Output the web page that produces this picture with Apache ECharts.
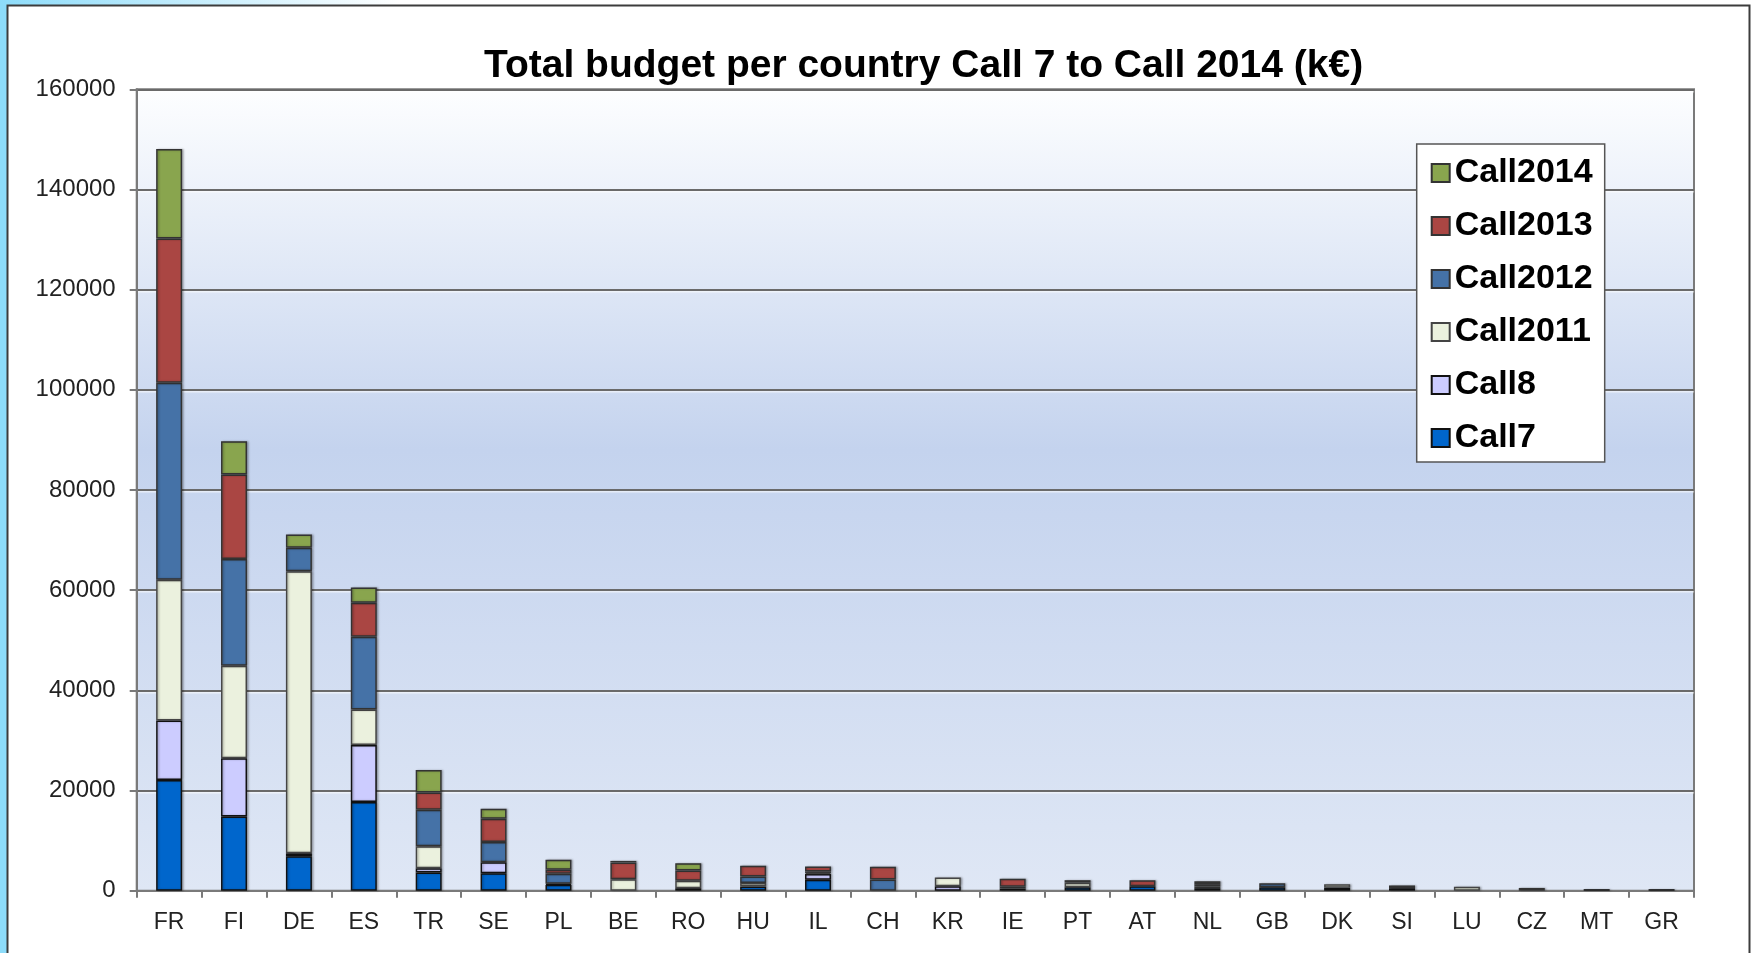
<!DOCTYPE html>
<html>
<head>
<meta charset="utf-8">
<script src="https://cdn.jsdelivr.net/npm/echarts@6/dist/echarts.min.js"></script>
<style>
html,body{margin:0;padding:0;background:#fff;}
#chart{width:1752px;height:953px;}
</style>
</head>
<body>
<div id="chart"></div>
<script>
var categories = ['FR','FI','DE','ES','TR','SE','PL','BE','RO','HU','IL','CH','KR','IE','PT','AT','NL','GB','DK','SI','LU','CZ','MT','GR'];
var call7    = [22100,14800,6900,17700,3650,3500,1200,0,500,850,2200,0,0,400,700,900,500,700,600,500,0,0,300,300];
var call8    = [11900,11650,600,11400,850,2200,200,0,0,0,1150,0,900,0,0,0,0,0,0,0,0,0,0,0];
var call2011 = [28100,18450,56300,7100,4350,0,0,2300,1500,700,200,0,1750,0,900,0,0,0,700,0,800,0,0,0];
var call2012 = [39300,21300,4650,14500,7300,4000,2000,0,0,1300,300,2250,0,400,500,0,300,800,0,550,0,550,0,0];
var call2013 = [28800,16900,0,6800,3450,4650,800,3350,2050,2150,1000,2550,0,1600,0,1200,500,0,0,0,0,0,0,0];
var call2014 = [17900,6650,2650,3050,4500,2000,2000,300,1450,0,0,0,0,0,0,0,600,0,0,0,0,0,0,0];
var yTicks = [0,20000,40000,60000,80000,100000,120000,140000,160000];
var titleText = 'Total budget per country Call 7 to Call 2014 (k€)';

var seriesDefs = [
  {name:'Call7', data:call7, color:'#0066cc', border:'#111'},
  {name:'Call8', data:call8, color:'#ccccff', border:'#111'},
  {name:'Call2011', data:call2011, color:'#ebf1de', border:'#444'},
  {name:'Call2012', data:call2012, color:'#4572a7', border:'#333'},
  {name:'Call2013', data:call2013, color:'#aa4643', border:'#333'},
  {name:'Call2014', data:call2014, color:'#89a54e', border:'#333'}
];

var chart = echarts.init(document.getElementById('chart'));
var series = seriesDefs.map(function(s){
  return {
    name: s.name,
    type: 'bar',
    stack: 'total',
    barWidth: 26,
    data: s.data.map(function(v){ return v === 0 ? '-' : v; }),
    itemStyle: {
      color: s.color,
      borderColor: s.border,
      borderWidth: 1.5,
      shadowColor: 'rgba(0,0,0,0.25)',
      shadowBlur: 2,
      shadowOffsetX: 1.5,
      shadowOffsetY: 0
    },
    emphasis: {disabled: true}
  };
});

var option = {
  animation: false,
  backgroundColor: '#ffffff',
  graphic: [
    {type:'rect', z:-10, shape:{x:0,y:0,width:7,height:953}, style:{fill:'#8ddcfa'}},
    {type:'rect', z:-10, shape:{x:0,y:0,width:400,height:5}, style:{fill:new echarts.graphic.LinearGradient(0,0,1,0,[{offset:0,color:'#8ddcfa'},{offset:1,color:'#ffffff'}])}},
    {type:'rect', z:-9, shape:{x:7.5,y:5.5,width:1742,height:960}, style:{fill:'#ffffff', stroke:'#3c3c3c', lineWidth:2}}
  ],
  title: {
    text: titleText,
    left: 484,
    top: 47,
    padding: 0,
    textStyle: {fontFamily:'Liberation Sans', fontWeight:'bold', fontSize:39, color:'#000', lineHeight:39}
  },
  legend: {
    orient: 'vertical',
    left: 1416.7,
    top: 144,
    padding: [12, 12, 7, 14],
    itemGap: 19,
    itemWidth: 18,
    itemHeight: 18,
    icon: 'rect',
    backgroundColor: '#ffffff',
    borderColor: '#555',
    borderWidth: 1.5,
    data: ['Call2014','Call2013','Call2012','Call2011','Call8','Call7'],
    textStyle: {fontFamily:'Liberation Sans', fontWeight:'bold', fontSize:34, color:'#000', lineHeight:34}
  },
  grid: {
    left: 136.7,
    right: 58,
    top: 89.3,
    bottom: 62.3,
    show: true,
    borderColor: '#7a7a7a',
    borderWidth: 2,
    backgroundColor: new echarts.graphic.LinearGradient(0,0,0,1,[
      {offset:0, color:'#fdfeff'},
      {offset:0.45, color:'#c4d3ee'},
      {offset:1, color:'#dfe7f5'}
    ])
  },
  xAxis: {
    type: 'category',
    data: categories,
    axisLine: {show:true, lineStyle:{color:'#7a7a7a', width:2}},
    axisTick: {show:true, length:7, lineStyle:{color:'#7a7a7a', width:2}},
    axisLabel: {fontFamily:'Liberation Sans', fontSize:23, color:'#222', margin:20, interval:0},
    splitLine: {show:false}
  },
  yAxis: {
    type: 'value',
    min: yTicks[0],
    max: yTicks[yTicks.length-1],
    interval: yTicks[1]-yTicks[0],
    axisLine: {show:true, lineStyle:{color:'#7a7a7a', width:2}},
    axisTick: {show:true, length:7, lineStyle:{color:'#7a7a7a', width:2}},
    axisLabel: {fontFamily:'Liberation Sans', fontSize:24, color:'#222', margin:21, formatter:function(v){ return String(v); }},
    splitLine: {show:true, lineStyle:{color:'#6a6a6a', width:2, shadowColor:'rgba(255,255,255,0.6)', shadowBlur:1, shadowOffsetY:1.5}}
  },
  series: series
};
chart.setOption(option);
</script>
</body>
</html>
